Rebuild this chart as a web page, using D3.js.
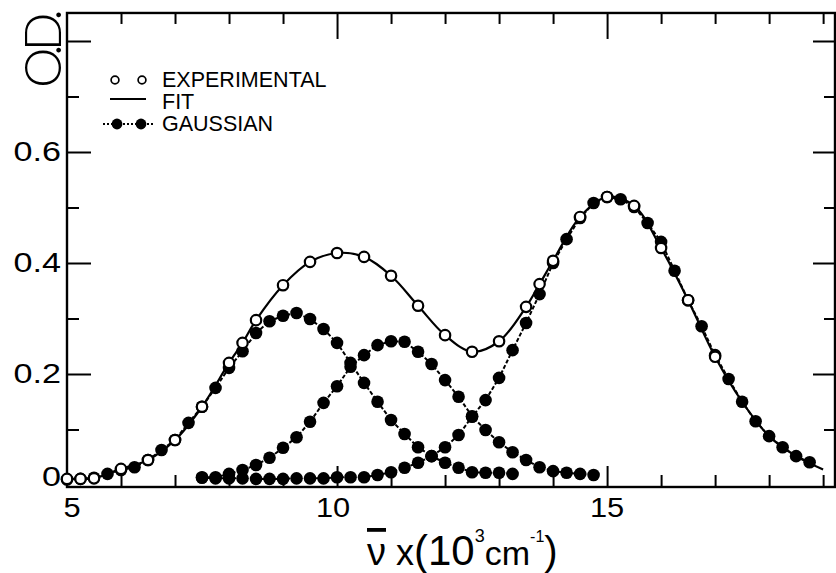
<!DOCTYPE html>
<html>
<head>
<meta charset="utf-8">
<script src="https://cdn.jsdelivr.net/npm/d3@7"></script>
<style>
  body { margin: 0; background: #fff; }
  svg { display: block; }
  text { font-family: "Liberation Sans", Arial, sans-serif; fill: #000; }
</style>
</head>
<body>
<svg id="chart" width="836" height="573"></svg>
<script>
// experimental points (open circles)
const expX = [5, 5.25, 5.5, 6, 6.5, 7, 7.5, 8, 8.25, 8.5, 9, 9.5, 10, 10.5, 11, 11.5, 12, 12.5, 13, 13.5, 13.75, 14, 14.5, 15, 15.5, 16, 16.5, 17]
const expY = [0.011, 0.011, 0.012, 0.029, 0.045, 0.081, 0.141, 0.220, 0.256, 0.297, 0.360, 0.402, 0.418, 0.411, 0.377, 0.323, 0.270, 0.240, 0.259, 0.321, 0.362, 0.404, 0.483, 0.519, 0.503, 0.427, 0.333, 0.231]

// fit continues along the third band after the last measured point
const fitTailX = [17.5, 18, 18.5, 19]
const fitTailY = [0.150, 0.088, 0.052, 0.028]

// gaussian components (filled dots)
const g1X = [5, 5.25, 5.5, 5.75, 6, 6.25, 6.5, 6.75, 7, 7.25, 7.5, 7.75, 8, 8.25, 8.5, 8.75, 9, 9.25, 9.5, 9.75, 10, 10.25, 10.5, 10.75, 11, 11.25, 11.5, 11.75, 12, 12.25, 12.5, 12.75, 13, 13.25]
const g1Y = [0.010, 0.011, 0.013, 0.020, 0.027, 0.032, 0.045, 0.063, 0.081, 0.112, 0.141, 0.175, 0.211, 0.241, 0.274, 0.295, 0.305, 0.310, 0.299, 0.281, 0.256, 0.220, 0.184, 0.150, 0.117, 0.092, 0.068, 0.052, 0.040, 0.031, 0.023, 0.022, 0.022, 0.020]

const g2X = [7.5, 7.75, 8, 8.25, 8.5, 8.75, 9, 9.25, 9.5, 9.75, 10, 10.25, 10.5, 10.75, 11, 11.25, 11.5, 11.75, 12, 12.25, 12.5, 12.75, 13, 13.25, 13.5, 13.75, 14, 14.25, 14.5, 14.75]
const g2Y = [0.014, 0.014, 0.020, 0.027, 0.036, 0.049, 0.067, 0.086, 0.114, 0.148, 0.178, 0.213, 0.234, 0.252, 0.259, 0.258, 0.240, 0.218, 0.189, 0.159, 0.124, 0.099, 0.077, 0.059, 0.045, 0.032, 0.025, 0.022, 0.020, 0.018]

const g3X = [7.5, 7.75, 8, 8.25, 8.5, 8.75, 9, 9.25, 9.5, 9.75, 10, 10.25, 10.5, 10.75, 11, 11.25, 11.5, 11.75, 12, 12.25, 12.5, 12.75, 13, 13.25, 13.5, 13.75, 14, 14.25, 14.5, 14.75, 15, 15.25, 15.5, 15.75, 16, 16.25, 16.5, 16.75, 17, 17.25, 17.5, 17.75, 18, 18.25, 18.5, 18.75]
const g3Y = [0.013, 0.012, 0.012, 0.012, 0.011, 0.011, 0.011, 0.012, 0.012, 0.012, 0.014, 0.014, 0.014, 0.018, 0.023, 0.031, 0.040, 0.052, 0.068, 0.090, 0.123, 0.153, 0.193, 0.243, 0.292, 0.344, 0.400, 0.443, 0.481, 0.508, 0.519, 0.515, 0.501, 0.472, 0.438, 0.386, 0.333, 0.286, 0.234, 0.191, 0.150, 0.115, 0.088, 0.068, 0.052, 0.041]

// ticks and labels
const xMinorTicks = [6, 7, 8, 9, 11, 12, 13, 14, 16, 17, 18, 19]
const xMajorTicks = [10, 15]
const xTickLabels = ['5', '10', '15']
const xLabelVals = [5, 10, 15]
const yMinorTicks = [0.1, 0.3, 0.5, 0.7]
const yMajorTicks = [0.2, 0.4, 0.6, 0.8]
const yTickLabels = ['0', '0.2', '0.4', '0.6']
const yLabelVals = [0, 0.2, 0.4, 0.6]

const svg = d3.select('#chart')

const x = d3.scaleLinear().domain([5, 19.22]).range([67, 835])
const y = d3.scaleLinear().domain([0, 0.8]).range([485, 41])

const yTop = y(0.8505)
const yBot = y(-0.0036)

function zip(xs, ys) {
  return xs.map((v, i) => [v, ys[i]])
}

// frame
svg.append('rect')
  .attr('x', x(5))
  .attr('y', yTop)
  .attr('width', x(19.22) - x(5))
  .attr('height', yBot - yTop)
  .attr('fill', 'none')
  .attr('stroke', '#000')
  .attr('stroke-width', 2.4)

function addTicks(axis, transform, values, size) {
  svg.append('g')
    .attr('transform', transform)
    .call(axis.tickValues(values).tickSize(size).tickFormat(''))
    .call(g => g.select('.domain').remove())
    .call(g => g.selectAll('line').attr('stroke', '#000').attr('stroke-width', 2))
}

addTicks(d3.axisBottom(x), `translate(0,${yBot})`, xMinorTicks, -12)
addTicks(d3.axisBottom(x), `translate(0,${yBot})`, xMajorTicks, -21)
addTicks(d3.axisTop(x), `translate(0,${yTop})`, xMinorTicks, -11)
addTicks(d3.axisTop(x), `translate(0,${yTop})`, xMajorTicks, -26)
addTicks(d3.axisLeft(y), `translate(${x(5)},0)`, yMinorTicks, -12)
addTicks(d3.axisLeft(y), `translate(${x(5)},0)`, yMajorTicks, -24)
addTicks(d3.axisRight(y), `translate(${x(19.22)},0)`, yMinorTicks, -11)
addTicks(d3.axisRight(y), `translate(${x(19.22)},0)`, yMajorTicks, -22)

// tick labels (the original face is wider than Arial, so stretch a bit)
svg.append('g')
  .selectAll('text')
  .data(yLabelVals)
  .enter()
  .append('text')
  .attr('transform', (d, i) => `translate(61, ${y(d) + (i === 0 ? 1 : 9)}) scale(1.22,1)`)
  .attr('text-anchor', 'end')
  .attr('font-size', 28)
  .text((d, i) => yTickLabels[i])

svg.append('g')
  .selectAll('text')
  .data(xLabelVals)
  .enter()
  .append('text')
  .attr('transform', (d, i) => `translate(${x(d) + [5, -4, 0][i]}, 517) scale(1.1,1)`)
  .attr('text-anchor', 'middle')
  .attr('font-size', 28)
  .text((d, i) => xTickLabels[i])

// y title
svg.append('text')
  .attr('transform', 'translate(61, 52) rotate(-90)')
  .attr('text-anchor', 'middle')
  .style('font-family', 'Lato, "Liberation Sans", sans-serif')
  .style('font-weight', 300)
  .style('letter-spacing', '-7px')
  .attr('font-size', 51)
  .text('O.D.')

// x title, laid out piece by piece
const xt = svg.append('text').attr('x', 367).attr('y', 565)
xt.append('tspan')
  .attr('font-size', 38)
  .style('text-decoration', 'overline')
  .text('ν')
xt.append('tspan').attr('dx', 10).attr('font-size', 36).text('x')
xt.append('tspan').attr('font-size', 42).text('(')
xt.append('tspan').attr('font-size', 42).text('10')
xt.append('tspan').attr('dy', -23).attr('font-size', 18).text('3')
xt.append('tspan').attr('dy', 23).attr('font-size', 34).text('cm')
xt.append('tspan').attr('dy', -23).attr('font-size', 16).text('-1')
xt.append('tspan').attr('dy', 23).attr('font-size', 40).text(')')

// gaussian connecting lines
const straight = d3.line().x(d => x(d[0])).y(d => y(d[1]))
const gaussians = [zip(g1X, g1Y), zip(g2X, g2Y), zip(g3X, g3Y)]

svg.append('g')
  .selectAll('path')
  .data(gaussians)
  .enter()
  .append('path')
  .attr('d', straight)
  .attr('fill', 'none')
  .attr('stroke', '#000')
  .attr('stroke-width', 2)
  .attr('stroke-dasharray', '4,2')

// fit curve
const fitPts = zip(expX, expY).concat(zip(fitTailX, fitTailY))
svg.append('path')
  .attr('d', d3.line().curve(d3.curveCatmullRom.alpha(0.5)).x(d => x(d[0])).y(d => y(d[1]))(fitPts))
  .attr('fill', 'none')
  .attr('stroke', '#000')
  .attr('stroke-width', 2.2)

// gaussian dots
svg.append('g')
  .selectAll('g')
  .data(gaussians)
  .enter()
  .append('g')
  .selectAll('circle')
  .data(d => d)
  .enter()
  .append('circle')
  .attr('cx', d => x(d[0]))
  .attr('cy', d => y(d[1]))
  .attr('r', 6.3)
  .attr('fill', '#000')

// experimental circles
svg.append('g')
  .selectAll('circle')
  .data(zip(expX, expY))
  .enter()
  .append('circle')
  .attr('cx', d => x(d[0]))
  .attr('cy', d => y(d[1]))
  .attr('r', 5.2)
  .attr('fill', '#fff')
  .attr('stroke', '#000')
  .attr('stroke-width', 2.2)

// legend
const legend = svg.append('g')
legend.selectAll('circle.open')
  .data([115, 142])
  .enter()
  .append('circle')
  .attr('class', 'open')
  .attr('cx', d => d)
  .attr('cy', 80)
  .attr('r', 3.9)
  .attr('fill', '#fff')
  .attr('stroke', '#000')
  .attr('stroke-width', 1.7)
legend.append('line')
  .attr('x1', 110).attr('x2', 146)
  .attr('y1', 99).attr('y2', 99)
  .attr('stroke', '#000').attr('stroke-width', 1.8)
legend.append('line')
  .attr('x1', 103).attr('x2', 153)
  .attr('y1', 124).attr('y2', 124)
  .attr('stroke', '#000').attr('stroke-width', 1.8)
  .attr('stroke-dasharray', '2,2')
legend.selectAll('circle.fill')
  .data([117, 141])
  .enter()
  .append('circle')
  .attr('class', 'fill')
  .attr('cx', d => d)
  .attr('cy', 124)
  .attr('r', 5.4)
  .attr('fill', '#000')
legend.selectAll('text')
  .data(['EXPERIMENTAL', 'FIT', 'GAUSSIAN'])
  .enter()
  .append('text')
  .attr('x', 162)
  .attr('y', (d, i) => [87, 109, 131][i])
  .attr('font-size', 21.5)
  .text(d => d)
</script>
</body>
</html>
